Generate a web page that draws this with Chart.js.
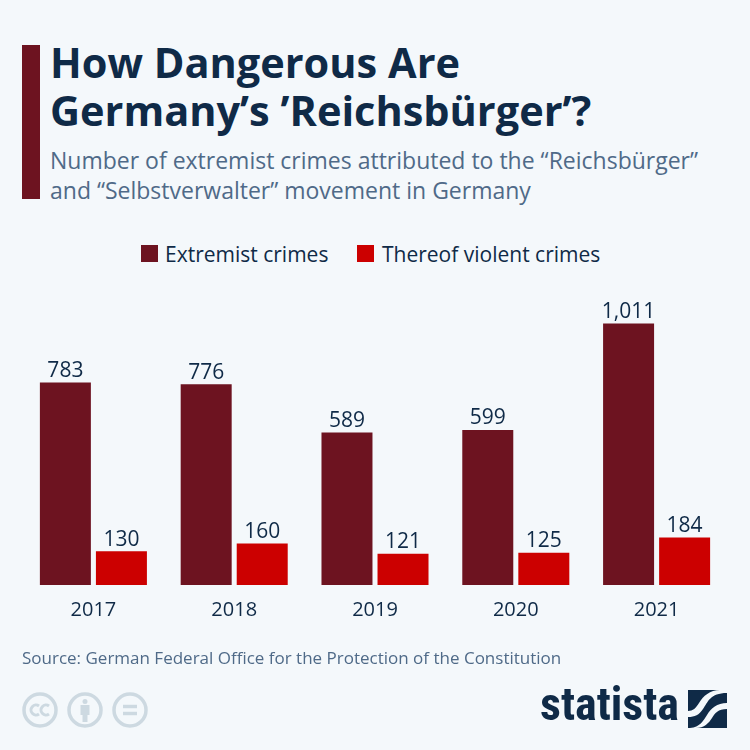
<!DOCTYPE html>
<html>
<head>
<meta charset="utf-8">
<script src="https://cdn.jsdelivr.net/npm/chart.js@4"></script>
<style>
  html, body { margin: 0; padding: 0; }
  body { width: 750px; height: 750px; background: #f4f8fb; position: relative; overflow: hidden; font-family: "Open Sans", sans-serif; }
  .abs { position: absolute; white-space: nowrap; }
  #bar { left: 22px; top: 45px; width: 18px; height: 154px; background: #6d1320; }
  #title { left: 50px; top: 38px; font-size: 41.5px; line-height: 48px; font-weight: 700; color: #0f2a47; }
  #sub { left: 50px; top: 145px; font-size: 23px; line-height: 30px; color: #4f6a88; }
  #source { left: 22px; top: 646px; font-size: 17px; line-height: 24px; color: #4f6a88; }
  .key { top: 242px; font-size: 21px; line-height: 24px; color: #0f2a47; }
  .swatch { top: 245px; width: 17px; height: 17px; }
  #logo { left: 540px; top: 676px; font-family: "Roboto Condensed", "Liberation Sans Narrow", "Open Sans", sans-serif; font-size: 46px; line-height: 56px; font-weight: 700; color: #0f2a47; }
  canvas { position: absolute; left: 0; top: 0; }
</style>
</head>
<body>
<div class="abs" id="bar"></div>
<div class="abs" id="title">How Dangerous Are<br>Germany’s ’Reichsbürger’?</div>
<div class="abs" id="sub">Number of extremist crimes attributed to the “Reichsbürger”<br>and “Selbstverwalter” movement in Germany</div>
<div class="abs swatch" style="left:141px;background:#6d1320"></div>
<div class="abs key" style="left:165px">Extremist crimes</div>
<div class="abs swatch" style="left:357px;background:#cc0000"></div>
<div class="abs key" style="left:382px">Thereof violent crimes</div>
<canvas id="chart" width="750" height="750"></canvas>
<div class="abs" id="source">Source: German Federal Office for the Protection of the Constitution</div>
<svg class="abs" style="left:22px;top:692px" width="130" height="36" fill="none" stroke="#cdd9e1" stroke-width="3.5">
  <circle cx="18" cy="18" r="16"/><circle cx="63" cy="18" r="16"/><circle cx="108" cy="18" r="16"/>
  <path d="M17 14a5 5 0 1 0 0 8M27 14a5 5 0 1 0 0 8" stroke-width="3"/>
  <circle cx="63" cy="9.5" r="2.5" fill="#cdd9e1" stroke="none"/>
  <rect x="58.5" y="13" width="9" height="10" fill="#cdd9e1" stroke="none"/>
  <rect x="60.5" y="22" width="5" height="8" fill="#cdd9e1" stroke="none"/>
  <path d="M101 14.5h14M101 21.5h14"/>
</svg>
<div class="abs" id="logo">statista</div>
<svg class="abs" style="left:688px;top:690px" width="39" height="38">
  <rect width="39" height="38" fill="#0f2a47"/>
  <path d="M39 3C22 3 20 12 15 19C11 25 7 27 0 27V21C5 21 8 18 11 13C15 6 22 0 32 0H39ZM39 13V19C30 19 27 23 24 28C21 33 16 38 8 38H2C12 37 15 31 19 25C23 18 29 13 39 13Z" fill="#f4f8fb"/>
</svg>
<script>
const years = ['2017', '2018', '2019', '2020', '2021'];
const extremistCrimes = [783, 776, 589, 599, 1011];
const violentCrimes = [130, 160, 121, 125, 184];

// no datalabels plugin available, so write the values over the bars
const valueLabels = {
  id: 'valueLabels',
  afterDatasetsDraw(chart) {
    const ctx = chart.ctx;
    ctx.save();
    ctx.font = '500 21px "Open Sans"';
    ctx.fillStyle = '#0f2a47';
    ctx.textAlign = 'center';
    ctx.textBaseline = 'bottom';
    chart.data.datasets.forEach((ds, i) => {
      chart.getDatasetMeta(i).data.forEach((bar, j) => {
        ctx.fillText(ds.data[j].toLocaleString('en-US'), bar.x, bar.y - 1);
      });
    });
    ctx.restore();
  }
};

new Chart(document.querySelector('#chart'), {
  type: 'bar',
  data: {
    labels: years,
    datasets: [
      { label: 'Extremist crimes', data: extremistCrimes, backgroundColor: '#6d1320' },
      { label: 'Thereof violent crimes', data: violentCrimes, backgroundColor: '#cc0000' },
    ],
  },
  options: {
    responsive: false,
    animation: false,
    layout: { padding: { left: 23, right: 23, top: 290, bottom: 123 } },
    datasets: { bar: { categoryPercentage: 0.796, barPercentage: 0.91 } },
    plugins: { legend: { display: false }, tooltip: { enabled: false } },
    scales: {
      x: {
        grid: { display: false },
        border: { display: false },
        ticks: { color: '#0f2a47', font: { family: 'Open Sans', size: 20 }, padding: 5, maxRotation: 0 },
      },
      y: { display: false, min: 0, max: 1140 },
    },
  },
  plugins: [valueLabels],
});
</script>
</body>
</html>
